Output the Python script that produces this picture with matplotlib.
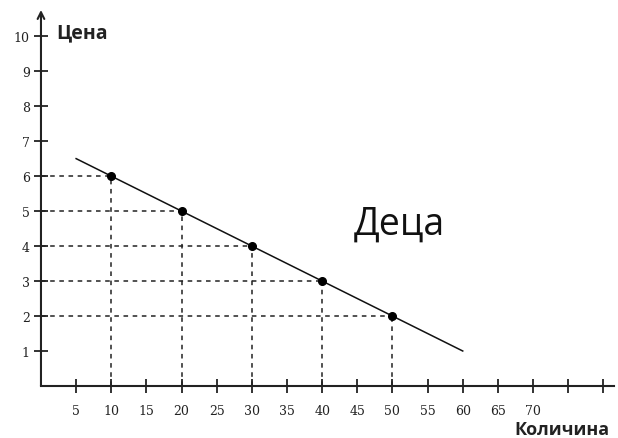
import matplotlib
matplotlib.use("Agg")
import matplotlib.pyplot as plt

quantity = [10, 20, 30, 40, 50]
price = [6, 5, 4, 3, 2]
line_x = [5, 60]
line_y = [6.5, 1]
x_ticks = list(range(5, 85, 5))
x_labels = [str(v) if v <= 70 else "" for v in x_ticks]
y_ticks = list(range(1, 11))

fig = plt.figure(figsize=(6.18, 4.39), dpi=100)
ax = fig.add_axes([0.0663, 0.1185, 0.927, 0.8565])
ax.set_xlim(0, 81.5)
ax.set_ylim(0, 10.75)

for s in ["top", "right", "left"]:
    ax.spines[s].set_visible(False)
ax.spines["bottom"].set_linewidth(1.5)
ax.spines["bottom"].set_color("#222222")

ax.annotate("", xy=(0, 10.75), xytext=(0, 0), xycoords="data",
            arrowprops=dict(arrowstyle="->", lw=1.5, color="#222222",
                            shrinkA=0, shrinkB=0, mutation_scale=12),
            annotation_clip=False)

for q, p in zip(quantity, price):
    ax.plot([0, q], [p, p], ls=(0, (3, 3)), color="#222222", lw=1.1)
    ax.plot([q, q], [0, p], ls=(0, (3, 3)), color="#222222", lw=1.1)

ax.plot(line_x, line_y, color="#111111", lw=1.1)
ax.plot(quantity, price, "o", color="black", ms=5.5)

ax.set_xticks(x_ticks)
ax.set_xticklabels(x_labels, fontsize=9, family="DejaVu Serif")
ax.set_yticks(y_ticks)
ax.set_yticklabels([str(v) for v in y_ticks], fontsize=9, family="DejaVu Serif")
ax.tick_params(axis="both", direction="inout", length=10, width=1.3, color="#222222", labelcolor="#222222")
ax.tick_params(axis="x", pad=8)
ax.tick_params(axis="y", pad=3)

fig.text(56/618, 1 - 33/439, "Цена", fontsize=14, family="Open Sans", weight="bold",
         va="center", ha="left", color="#222222")
fig.text(610/618, 1 - 430/439, "Количина", fontsize=13, family="Open Sans", weight="bold",
         va="center", ha="right", color="#222222")
ax.text(51, 4.65, "Деца", fontsize=27, family="Open Sans", ha="center", va="center", color="#111111")

fig.savefig("out.png", dpi=100)
